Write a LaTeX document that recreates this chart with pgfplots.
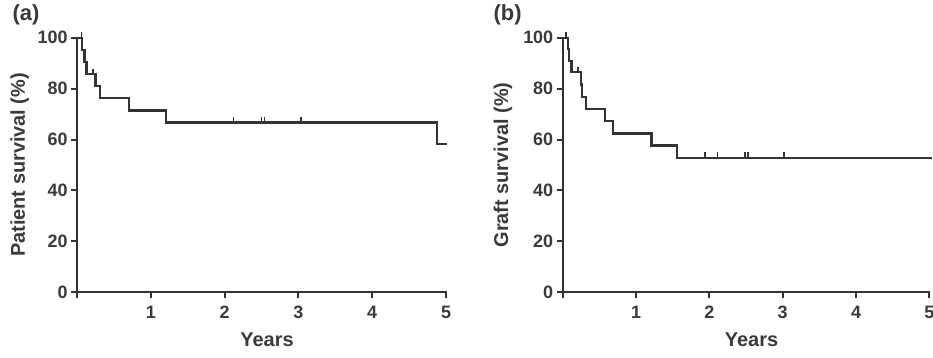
\documentclass[border=0pt]{standalone}
\usepackage{fontspec}
\setmainfont{Liberation Sans}
\usepackage{pgfplots}
\usepackage{pgfplotstable}
\pgfplotsset{compat=1.18}
\definecolor{ink}{HTML}{333333}
\definecolor{txt}{HTML}{3A3A3A}
\pgfdeclareplotmark{censor}{%
  \pgfpathmoveto{\pgfqpoint{0pt}{0pt}}%
  \pgfpathlineto{\pgfqpoint{0pt}{5.5pt}}%
  \pgfusepathqstroke}

\pgfplotstableread{
x y
0 100
0.07 95.2
0.10 90.5
0.13 85.7
0.25 81.0
0.31 76.2
0.70 71.4
1.21 66.7
4.88 58.3
5.02 58.3
}\patient
\pgfplotstableread{
x y
0.06 100
0.22 85.7
2.12 66.7
2.50 66.7
2.54 66.7
3.04 66.7
}\patientcens
\pgfplotstableread{
x y
0 100
0.07 95.5
0.09 90.9
0.12 86.4
0.245 81.6
0.26 76.8
0.32 72.0
0.58 67.2
0.69 62.4
1.21 57.6
1.555 52.8
5.03 52.8
}\graft
\pgfplotstableread{
x y
0.045 100
0.21 86.4
1.94 52.8
2.11 52.8
2.49 52.8
2.53 52.8
3.02 52.8
}\graftcens

\pgfplotsset{km/.style={
  scale only axis, height=254.6bp,
  xmin=0, xmax=5, ymin=0, ymax=100,
  axis x line*=bottom, axis y line*=left,
  axis line style={ink, line width=2.3bp, line cap=rect},
  major tick style={ink, line width=2bp},
  tick align=outside, major tick length=6bp,
  xtick={0,1,2,3,4,5}, xticklabels={,1,2,3,4,5},
  ytick={0,20,40,60,80,100},
  /pgf/number format/assume math mode=true,
  tick label style={font=\fontsize{18}{18}\selectfont\bfseries, text=txt},
  xticklabel style={yshift=-4bp},
  label style={font=\fontsize{20}{20}\selectfont\bfseries, text=txt},
  clip=false,
  xlabel={Years},
  xlabel style={at={(axis description cs:0.515,-0.187)}, anchor=center},
  ylabel style={anchor=center},
}}

\begin{document}
\begin{tikzpicture}
\begin{axis}[km, width=369bp, at={(77bp,65.7bp)}, anchor=south west,
  ylabel={Patient survival (\%)},
  ylabel style={at={(axis description cs:-0.155,0.5)}}]
\addplot[const plot, ink, line width=2.3bp] table {\patient};
\addplot[only marks, mark=censor, mark options={ink, line width=1.8bp}] table {\patientcens};
\node[anchor=west, font=\fontsize{22}{22}\selectfont\bfseries, text=txt] at (axis description cs:-0.184,1.089) {(a)};
\end{axis}
\begin{axis}[km, width=366.6bp, at={(562.7bp,65.7bp)}, anchor=south west,
  ylabel={Graft survival (\%)},
  ylabel style={at={(axis description cs:-0.163,0.5)}}]
\addplot[const plot, ink, line width=2.3bp] table {\graft};
\addplot[only marks, mark=censor, mark options={ink, line width=1.8bp}] table {\graftcens};
\node[anchor=west, font=\fontsize{22}{22}\selectfont\bfseries, text=txt] at (axis description cs:-0.198,1.089) {(b)};
\end{axis}
\pgfresetboundingbox
\path[use as bounding box] (0,0) rectangle (933bp,358bp);
\end{tikzpicture}
\end{document}
